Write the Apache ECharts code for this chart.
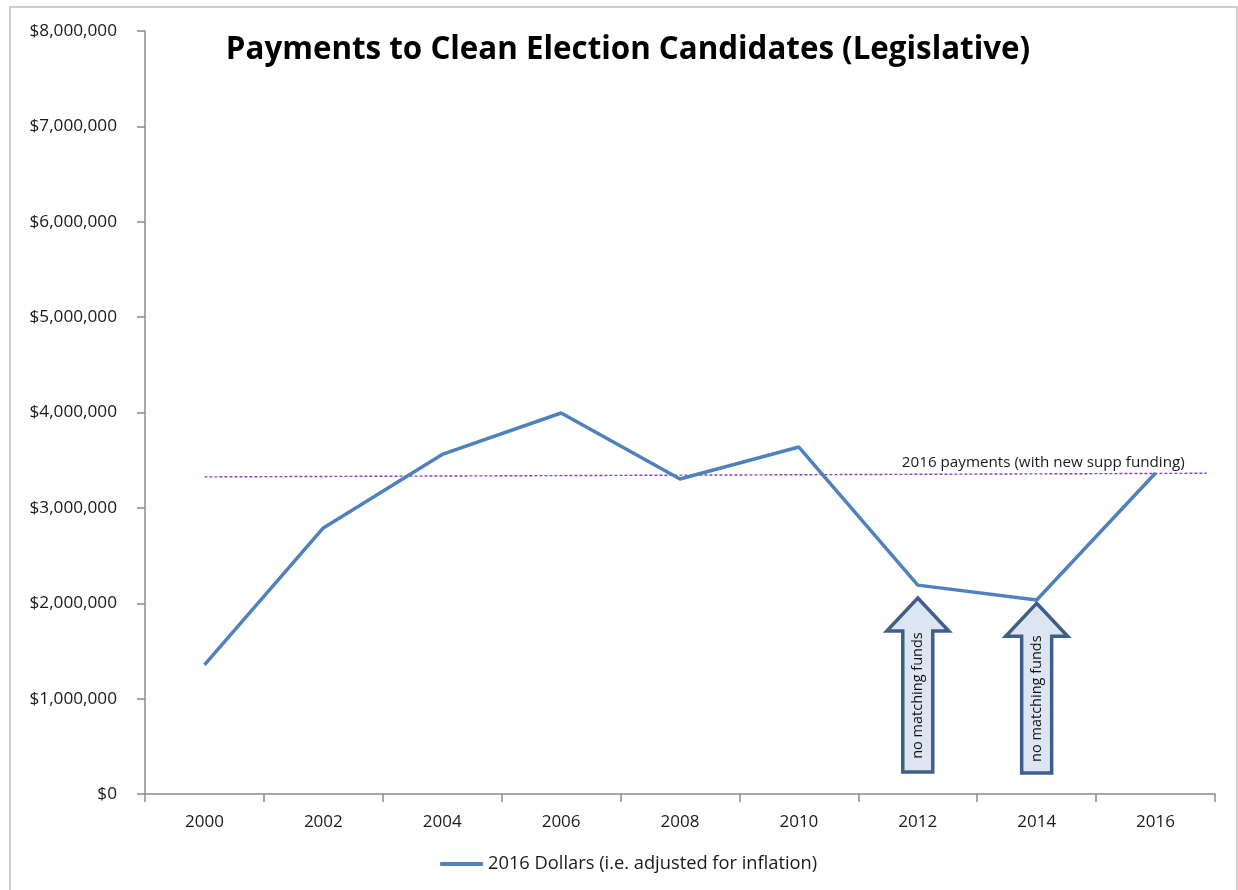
<!DOCTYPE html>
<html><head><meta charset="utf-8">
<script src="https://cdn.jsdelivr.net/npm/echarts@6/dist/echarts.min.js"></script>
<style>html,body{margin:0;padding:0;background:#fff}#c{width:1238px;height:890px}</style>
</head><body><div id="c"></div>
<script>
const years = ['2000','2002','2004','2006','2008','2010','2012','2014','2016'];
const dollars2016 = [1353000, 2790000, 3560000, 3995000, 3303000, 3638000, 2190000, 2034000, 3366000];
const refLineX = [0.5, 8.93];
const refLineY = [3325000, 3363000];
const refLabel = '2016 payments (with new supp funding)';
const arrowYears = ['2012', '2014'];
const arrowTop = [2055000, 2000000];
const arrowBottom = [230000, 220000];
const arrowText = 'no matching funds';
const seriesName = '2016 Dollars (i.e. adjusted for inflation)';
const titleText = 'Payments to Clean Election Candidates (Legislative)';

const chart = echarts.init(document.getElementById('c'));
const fontFam = 'Open Sans, Liberation Sans, sans-serif';
chart.setOption({
  animation: false,
  title: {text: titleText, left: 623, top: 30, textAlign: 'center',
    textStyle: {fontFamily: fontFam, fontWeight: 'bold', fontSize: 31.3, color: '#000'}},
  grid: {left: 145, right: 23, top: 31, bottom: 96, containLabel: false},
  legend: {data: [seriesName], bottom: 12, left: 435, itemWidth: 43, itemHeight: 4, icon: 'roundRect', itemGap: 4,
    textStyle: {fontFamily: fontFam, fontSize: 18.3, color: '#1a1a1a'}},
  xAxis: [{type: 'category', data: years, boundaryGap: true,
      axisLine: {lineStyle: {color: '#8c8c8c', width: 1.5}},
      axisTick: {show: true, length: 8, lineStyle: {color: '#8c8c8c', width: 1.5}},
      axisLabel: {margin: 20, fontFamily: fontFam, fontSize: 17, color: '#1a1a1a'}},
    {type: 'value', min: 0, max: 9, show: false}],
  yAxis: {type: 'value', min: 0, max: 8000000, interval: 1000000,
    splitLine: {show: false},
    axisLine: {show: true, lineStyle: {color: '#8c8c8c', width: 1.5}},
    axisTick: {show: true, length: 8, lineStyle: {color: '#8c8c8c', width: 1.5}},
    axisLabel: {margin: 28, fontFamily: fontFam, fontSize: 17.2, color: '#1a1a1a',
      formatter: v => '$' + v.toLocaleString('en-US')}},
  series: [
    {name: seriesName, type: 'line', data: dollars2016, showSymbol: false, symbol: 'none',
      lineStyle: {color: '#4f81bd', width: 3.5}, itemStyle: {color: '#4f81bd'}, z: 3},
    {name: 'ref', type: 'line', xAxisIndex: 1, data: refLineX.map((x, i) => [x, refLineY[i]]),
      showSymbol: false, symbol: 'none', silent: true,
      lineStyle: {color: '#8a3fc0', width: 1.4, type: [3, 2]}, z: 2}
  ]
});

function drawAnnotations() {
  const g = [];
  g.push({type: 'rect', shape: {x: 10, y: 7, width: 1227, height: 890}, style: {fill: 'none', stroke: '#bdbdbd', lineWidth: 1.5}, silent: true, z: 0});
  const p = chart.convertToPixel({xAxisIndex: 1, yAxisIndex: 0}, [refLineX[1], refLineY[1]]);
  g.push({type: 'text', x: p[0] - 22, y: p[1] - 3, style: {text: refLabel, textAlign: 'right', textVerticalAlign: 'bottom',
    font: '15.2px ' + fontFam, fill: '#1a1a1a'}, z: 10});
  arrowYears.forEach((yr, i) => {
    const top = chart.convertToPixel({xAxisIndex: 0, yAxisIndex: 0}, [yr, arrowTop[i]]);
    const bot = chart.convertToPixel({xAxisIndex: 0, yAxisIndex: 0}, [yr, arrowBottom[i]]);
    const cx = top[0], ty = top[1], by = bot[1];
    const hw = 31, sw = 15, hh = 33;
    const pts = [[cx, ty], [cx + hw, ty + hh], [cx + sw, ty + hh], [cx + sw, by], [cx - sw, by], [cx - sw, ty + hh], [cx - hw, ty + hh]];
    g.push({type: 'polygon', shape: {points: pts}, style: {fill: '#dce6f2', stroke: '#3f5f8a', lineWidth: 3.5, lineJoin: 'miter'}, z: 10});
    g.push({type: 'text', x: cx, y: (ty + hh + by) / 2 - 6, rotation: Math.PI / 2,
      style: {text: arrowText, textAlign: 'center', textVerticalAlign: 'middle', font: '14.5px ' + fontFam, fill: '#111'}, z: 11});
  });
  chart.setOption({graphic: g});
}
drawAnnotations();
</script></body></html>
